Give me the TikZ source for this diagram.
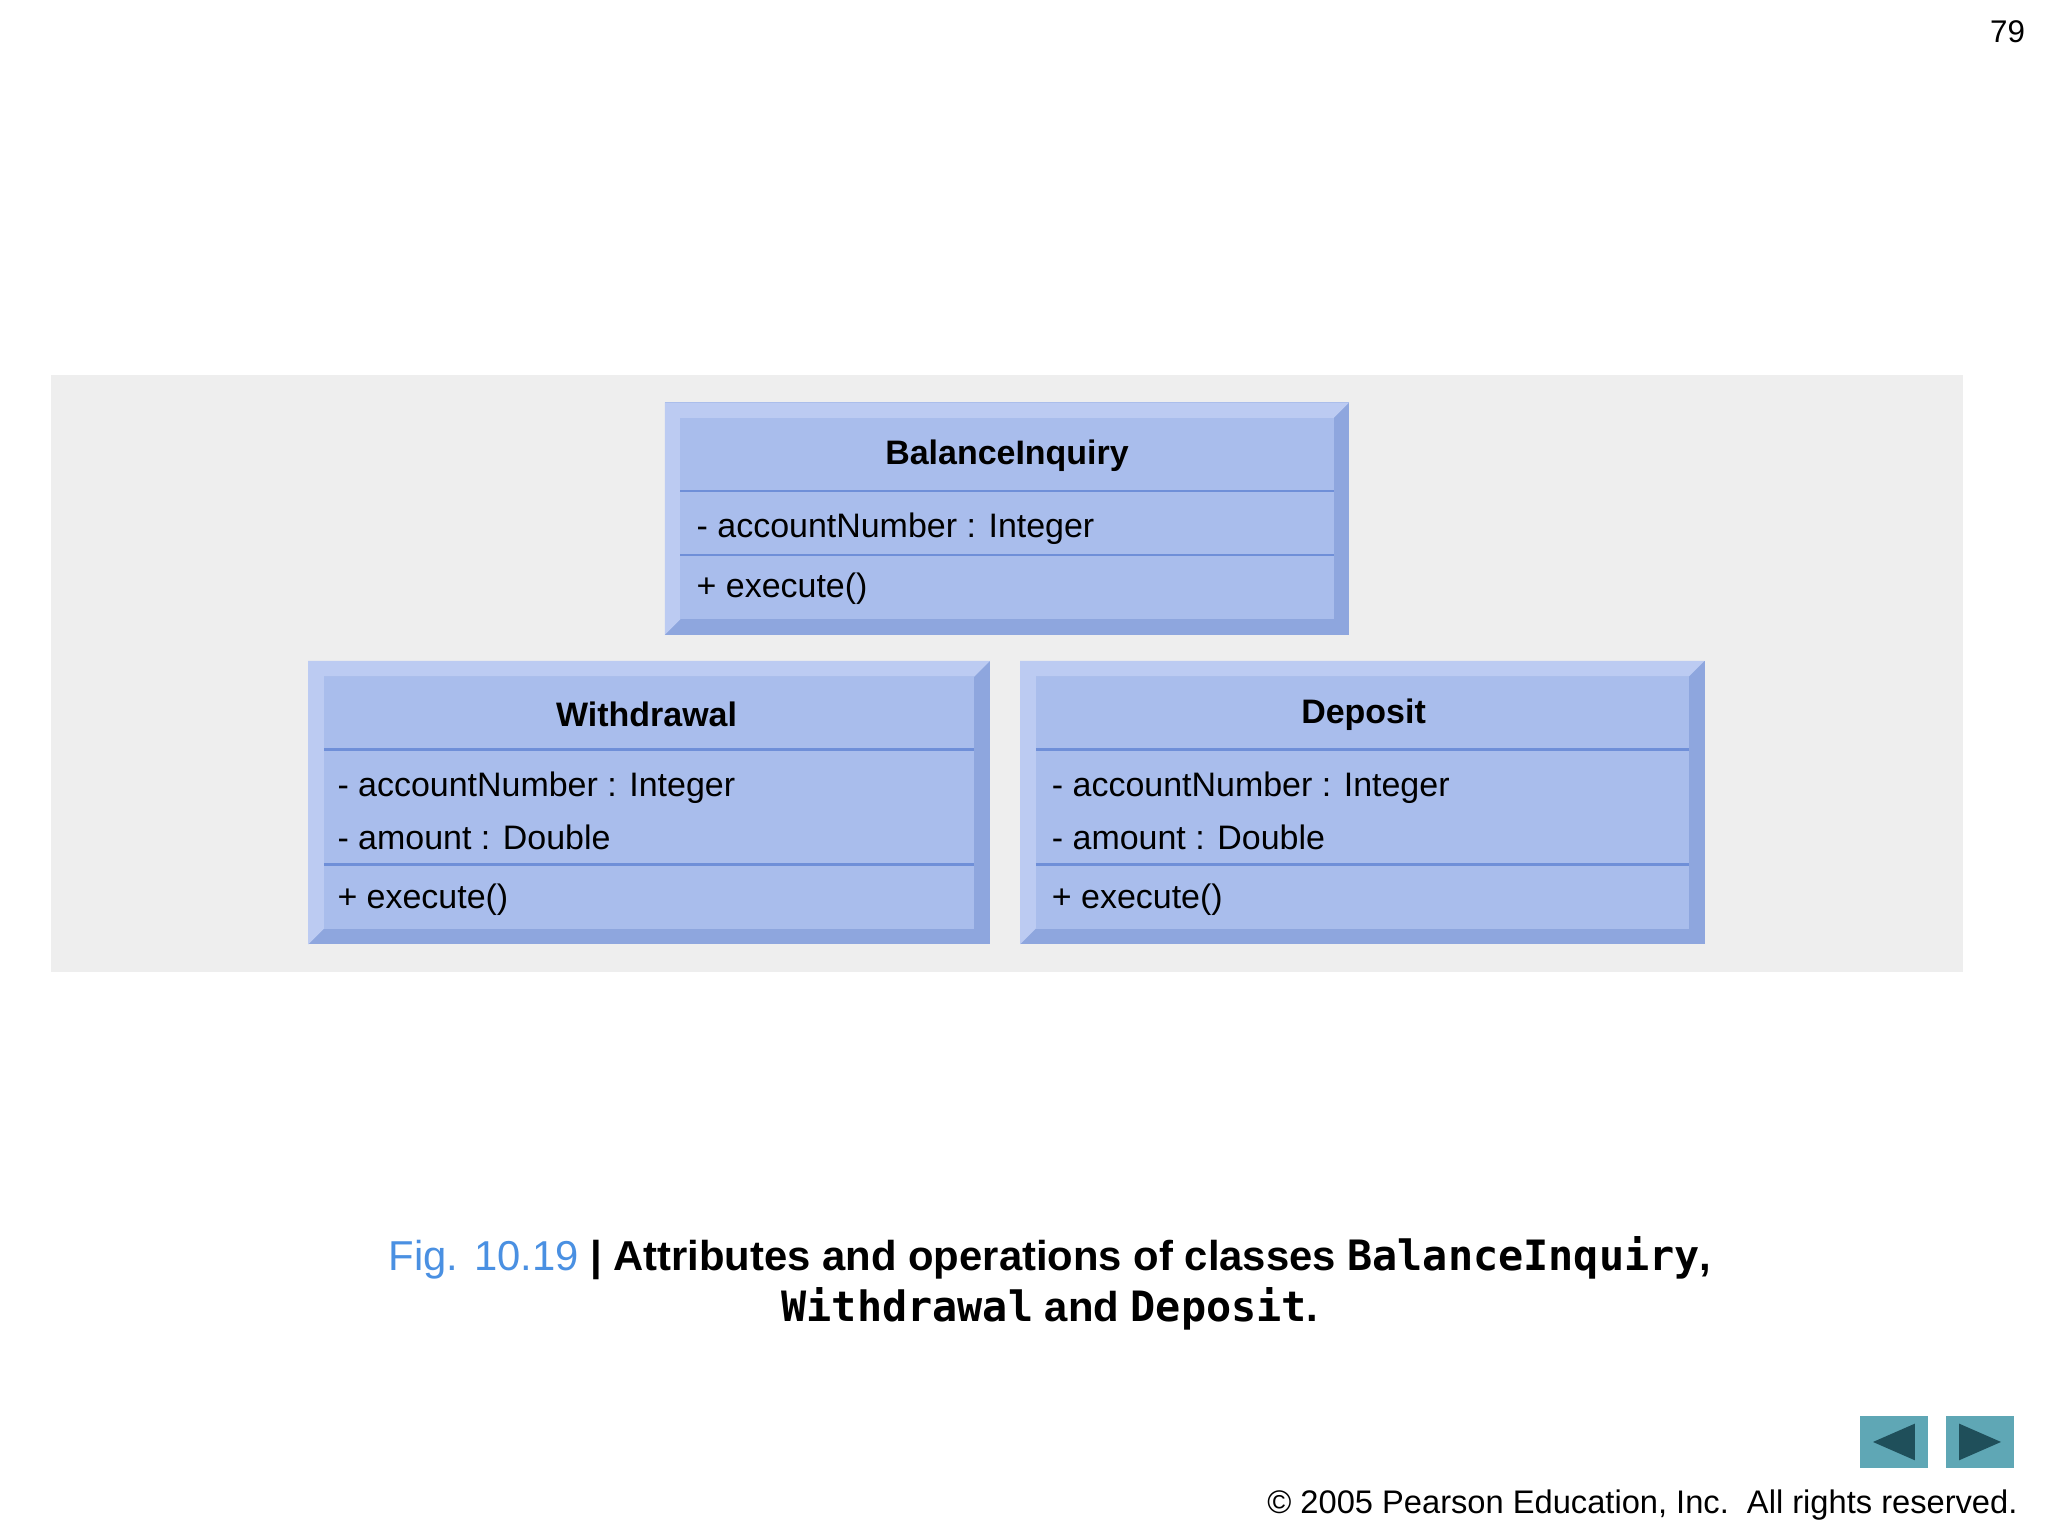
\documentclass[tikz,border=0pt]{standalone}
\usepackage{fontspec}
\setmainfont{Liberation Sans}
\setmonofont{DejaVu Sans Mono}
\definecolor{panel}{HTML}{EEEEEE}
\definecolor{boxfill}{HTML}{A9BDEC}
\definecolor{bevlight}{HTML}{BCCBF2}
\definecolor{bevdark}{HTML}{8EA6DE}
\definecolor{divline}{HTML}{6F8FD8}
\definecolor{figblue}{HTML}{4A90E2}
\definecolor{navbtn}{HTML}{5FA7B5}
\definecolor{navtri}{HTML}{1F4F5A}
\tikzset{
  uml/.style={font=\fontsize{13}{15}\selectfont, anchor=west, inner sep=0pt},
  umltitle/.style={font=\bfseries\fontsize{13}{15}\selectfont, inner sep=0pt},
  captext/.style={font=\bfseries\fontsize{16}{19}\selectfont, inner sep=0pt}
}
\newcommand{\umlbox}[4]{% x1 y1 x2 y2
  \fill[bevdark] (#1,#2) rectangle (#3,#4);
  \fill[bevlight] (#1,#2) -- (#3,#2) -- (#3-12,#2+12) -- (#1+12,#2+12) -- (#1+12,#4-12) -- (#1,#4) -- cycle;
  \fill[boxfill] (#1+12,#2+12) rectangle (#3-12,#4-12);
}
\begin{document}
\begin{tikzpicture}[x=0.5pt,y=-0.5pt]
\useasboundingbox (0,0) rectangle (1568,1176);
\fill[white] (0,0) rectangle (1568,1176);
\fill[panel] (39,287) rectangle (1503,744);
\node[font=\fontsize{12}{14}\selectfont] (pg) at (1537,24) {79};
% BalanceInquiry
\umlbox{509}{308}{1033}{486}
\draw[divline,line width=1pt] (521,376) -- (1021,376) (521,425) -- (1021,425);
\node[umltitle] (bt) at (771,349) {BalanceInquiry};
\node[uml] (ba) at (533,405) {- accountNumber : Integer};
\node[uml] (bo) at (533,451) {+ execute()};
% Withdrawal
\umlbox{236}{506}{758}{723}
\draw[divline,line width=1pt] (248,574) -- (746,574) (248,662) -- (746,662);
\node[umltitle] (wt) at (495,547) {Withdrawal};
\node[uml] (wa) at (258,603) {- accountNumber : Integer};
\node[uml] (wb) at (258,641) {- amount : Double};
\node[uml] (wo) at (258,689) {+ execute()};
% Deposit
\umlbox{781}{506}{1305}{723}
\draw[divline,line width=1pt] (793,574) -- (1293,574) (793,662) -- (1293,662);
\node[umltitle] (dt) at (1044,547) {Deposit};
\node[uml] (da) at (805,603) {- accountNumber : Integer};
\node[uml] (db) at (805,641) {- amount : Double};
\node[uml] (do) at (805,689) {+ execute()};
% caption
\node[captext] (c1) at (804,963) {\textcolor{figblue}{\mdseries Fig. 10.19} | Attributes and operations of classes \texttt{BalanceInquiry},};
\node[captext] (c2) at (804,1002) {\texttt{Withdrawal} and \texttt{Deposit}.};
% nav buttons
\fill[navbtn] (1424,1084) rectangle (1476,1124);
\fill[navtri] (1466,1090) -- (1466,1118) -- (1434,1104) -- cycle;
\fill[navbtn] (1490,1084) rectangle (1542,1124);
\fill[navtri] (1500,1090) -- (1500,1118) -- (1532,1104) -- cycle;
\node[anchor=east,font=\fontsize{12.5}{14}\selectfont,inner sep=0pt] (cp) at (1545,1152) {© 2005 Pearson Education, Inc.\ \ All rights reserved.};
\end{tikzpicture}
\end{document}
